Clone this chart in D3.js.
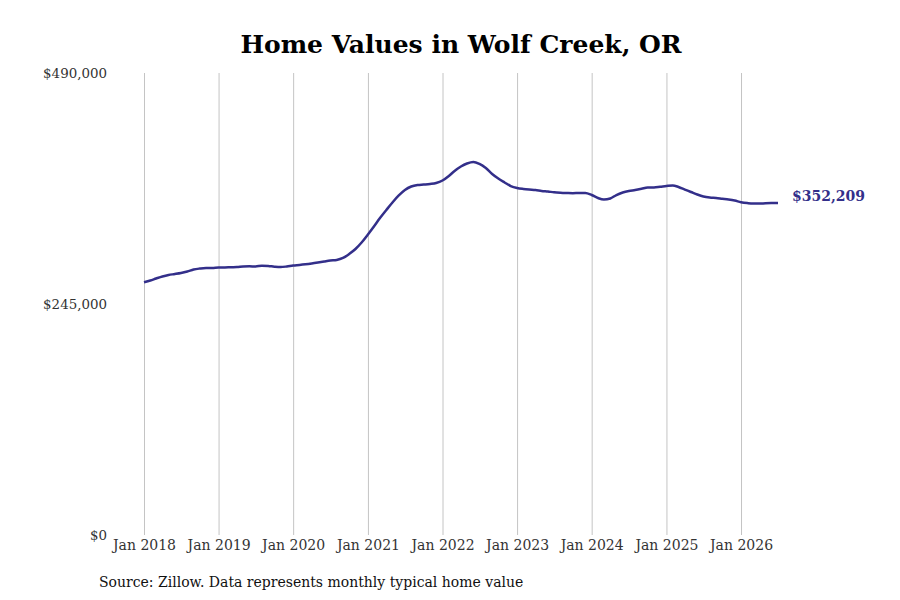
<!DOCTYPE html>
<html>
<head>
<meta charset="utf-8">
<script src="https://cdn.jsdelivr.net/npm/d3@7"></script>
<style>
  body { margin: 0; background: #fff; }
  text { font-family: "DejaVu Serif", serif; }
</style>
</head>
<body>
<div id="chart"></div>
<script>
// Monthly typical home value, Jan 2018 .. Jul 2026
const startMonth = "2018-01";
const values = [
  // 2018
  268000, 269900, 272000, 274200, 275800, 276800, 277900, 279500, 281600, 282600, 283200, 283200,
  // 2019
  283700, 283700, 284000, 284200, 284800, 285000, 284800, 285600, 285300, 284600, 284200, 284800,
  // 2020
  285800, 286400, 287100, 288000, 289000, 290100, 291100, 291700, 293800, 298000, 303300, 310200,
  // 2021
  318700, 327700, 336200, 344700, 352700, 360100, 365900, 369600, 371200, 371700, 372300, 373300,
  // 2022
  376000, 380800, 386100, 390800, 394000, 395600, 393500, 389200, 382900, 378100, 373900, 370100,
  // 2023
  368000, 367000, 366400, 365900, 364900, 364300, 363500, 363000, 362700, 362500, 362700, 362700,
  // 2024
  360600, 357400, 355800, 356900, 360600, 363300, 364900, 365900, 367200, 368600, 368600, 369300,
  // 2025
  370100, 370700, 369100, 366400, 363800, 361100, 359000, 357900, 357400, 356600, 355800, 354700,
  // 2026
  353000, 352000, 351500, 351500, 351900, 352100, 352209
];
const yTicks = [0, 245000, 490000];
const xTickYears = [2018, 2019, 2020, 2021, 2022, 2023, 2024, 2025, 2026];

const W = 900, H = 600;
const margin = {top: 73, right: 122, bottom: 65, left: 144};
const lineColor = "#332f8a";

const parse = d3.timeParse("%Y-%m");
const t0 = parse(startMonth);
const data = values.map((v, i) => ({date: d3.timeMonth.offset(t0, i), value: v}));

const svg = d3.select("#chart").append("svg")
    .attr("width", W)
    .attr("height", H);

// Scales
const x = d3.scaleTime()
    .domain(d3.extent(data, d => d.date))
    .range([margin.left, W - margin.right]);

const y = d3.scaleLinear()
    .domain([0, 490000])
    .range([H - margin.bottom, margin.top]);

// Title
svg.append("text")
    .attr("x", 461)
    .attr("y", 53)
    .attr("text-anchor", "middle")
    .style("font-size", "25px")
    .style("font-weight", "bold")
    .text("Home Values in Wolf Creek, OR");

// Vertical grid lines + x labels
const xTicks = xTickYears.map(yr => new Date(yr, 0, 1));
const xAxis = svg.append("g")
    .attr("transform", `translate(0,${H - margin.bottom})`)
    .call(d3.axisBottom(x)
        .tickValues(xTicks)
        .tickSize(-(H - margin.bottom - margin.top))
        .tickPadding(5)
        .tickFormat(d3.timeFormat("Jan %Y")));
xAxis.select(".domain").remove();
xAxis.selectAll(".tick line").attr("stroke", "#c4c4c4");
xAxis.selectAll(".tick text")
    .attr("fill", "#333")
    .style("font-size", "14px")
    .style("font-family", "DejaVu Serif, serif");

// Y labels
const yAxis = svg.append("g")
    .attr("transform", "translate(110,0)")
    .call(d3.axisLeft(y)
        .tickValues(yTicks)
        .tickSize(0)
        .tickFormat(d => "$" + d3.format(",")(d)));
yAxis.select(".domain").remove();
yAxis.selectAll(".tick text")
    .attr("fill", "#333")
    .style("font-size", "13.4px")
    .style("font-family", "DejaVu Serif, serif");

// Line
const line = d3.line()
    .x(d => x(d.date))
    .y(d => y(d.value))
    .curve(d3.curveMonotoneX);

svg.append("path")
    .datum(data)
    .attr("fill", "none")
    .attr("stroke", lineColor)
    .attr("stroke-width", 2.5)
    .attr("stroke-linejoin", "round")
    .attr("d", line);

// End label
const last = data[data.length - 1];
svg.append("text")
    .attr("x", x(last.date) + 14)
    .attr("y", y(last.value) - 6)
    .attr("dominant-baseline", "middle")
    .attr("fill", lineColor)
    .style("font-size", "14px")
    .style("font-weight", "bold")
    .text("$" + d3.format(",")(last.value));

// Source
svg.append("text")
    .attr("x", 99)
    .attr("y", 587)
    .style("font-size", "14px")
    .attr("fill", "#111")
    .text("Source: Zillow. Data represents monthly typical home value");
</script>
</body>
</html>
